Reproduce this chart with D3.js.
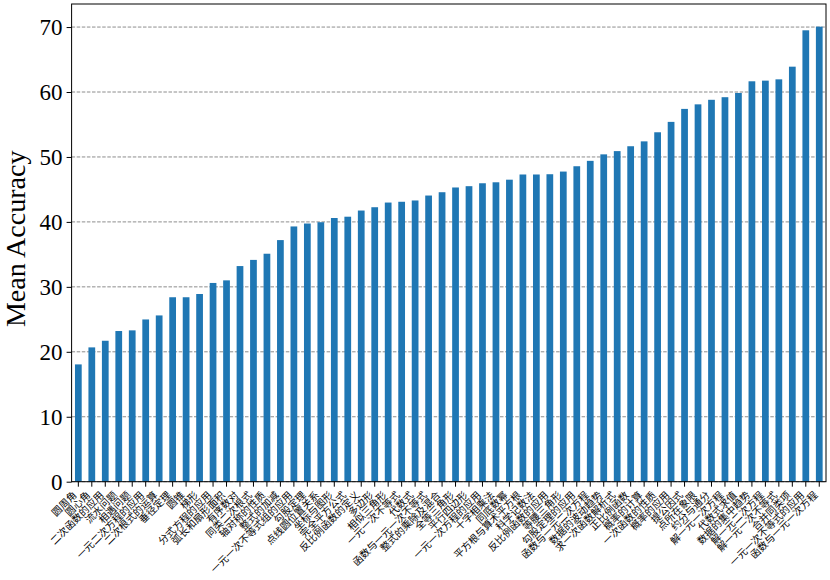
<!DOCTYPE html>
<html>
<head>
<meta charset="utf-8">
<script src="https://cdn.jsdelivr.net/npm/d3@7"></script>
<style>
  body { margin: 0; background: #fff; }
  svg { display: block; }
</style>
</head>
<body>
<div id="chart"></div>
<script>
const categories = [
  "圆周角", "圆心角", "二次函数的应用", "流水问题", "相遇问题",
  "一元二次方程的应用", "二次根式的运算", "垂径定理", "圆锥", "梯形",
  "分式方程的应用", "弧长和扇形面积", "有序数对", "同类二次根式", "轴对称的性质",
  "整式的加减", "一元一次不等式组的应用", "勾股定理", "点线圆位置关系", "坐标与图形",
  "完全平方公式", "反比例函数的定义", "多边形", "相似三角形", "一元一次不等式",
  "代数式", "函数与一元一次不等式", "整式的乘除及混合", "全等三角形", "平行四边形",
  "一元一次方程的应用", "十字相乘法", "同底数幂", "平方根与算术平方根", "科学记数法",
  "反比例函数的应用", "等腰三角形", "勾股定理的应用", "函数与一元二次方程", "数据的波动趋势",
  "求一次函数解析式", "正比例函数", "概率的计算", "一次函数的性质", "概率的应用",
  "提公因式", "点所在象限", "约分与通分", "解一元一次方程", "代数式求值",
  "数据的集中趋势", "解一元二次方程", "解一元一次不等式", "合并同类项", "一元一次不等式的应用",
  "函数与一元一次方程"
];
const values = [
  18.06, 20.68, 21.7, 23.2, 23.3, 24.98, 25.6, 28.4, 28.4, 28.9,
  30.6, 31.0, 33.2, 34.15, 35.1, 37.2, 39.3, 39.75, 39.95, 40.6,
  40.8, 41.75, 42.26, 42.98, 43.1, 43.3, 44.06, 44.57, 45.3, 45.5,
  45.95, 46.1, 46.5, 47.3, 47.3, 47.34, 47.75, 48.57, 49.4, 50.4,
  50.9, 51.65, 52.4, 53.8, 55.4, 57.4, 58.1, 58.8, 59.2, 59.85,
  61.65, 61.75, 61.95, 63.9, 69.5, 70.06
];
const yTicks = [0, 10, 20, 30, 40, 50, 60, 70];
const yLabel = "Mean Accuracy";

const W = 830, H = 580;
const pLeft = 71.6, pRight = 826, pTop = 4, pBottom = 481.7;

const svg = d3.select("#chart").append("svg")
  .attr("width", W).attr("height", H);

const idx = d3.range(categories.length);
const x = d3.scaleBand().domain(idx).range([pLeft, pRight])
  .paddingInner(0.5).paddingOuter(0.25);
const y = d3.scaleLinear().domain([0, 73.55]).range([pBottom, pTop]);

// grid
svg.append("g").selectAll("line").data(yTicks).join("line")
  .attr("x1", pLeft).attr("x2", pRight)
  .attr("y1", d => y(d)).attr("y2", d => y(d))
  .attr("stroke", "#808080").attr("stroke-width", 0.9)
  .attr("stroke-dasharray", "3.5,1.6");

// bars
svg.append("g").selectAll("rect").data(idx).join("rect")
  .attr("x", i => x(i))
  .attr("width", x.bandwidth())
  .attr("y", i => y(values[i]))
  .attr("height", i => pBottom - y(values[i]))
  .attr("fill", "#1f77b4");

// y axis
const yAxis = svg.append("g").attr("transform", `translate(${pLeft},0)`)
  .call(d3.axisLeft(y).tickValues(yTicks).tickSize(5).tickPadding(4).tickFormat(d3.format("d")));
yAxis.select(".domain").remove();
yAxis.selectAll("text").attr("font-family", "'Liberation Serif', 'Times New Roman', serif")
  .attr("font-size", 23).attr("fill", "#000");
yAxis.selectAll("line").attr("stroke", "#000");

// x axis
const xAxis = svg.append("g").attr("transform", `translate(0,${pBottom})`)
  .call(d3.axisBottom(x).tickSize(5).tickPadding(3).tickFormat(i => categories[i]));
xAxis.select(".domain").remove();
xAxis.selectAll("line").attr("stroke", "#000");
xAxis.selectAll("text")
  .attr("font-family", "'Noto Sans CJK SC', sans-serif")
  .attr("font-size", 10)
  .attr("fill", "#000")
  .attr("text-anchor", "end")
  .attr("dy", null)
  .attr("y", 0)
  .attr("transform", "translate(-1,14) rotate(-45)");

// frame
svg.append("rect").attr("x", pLeft).attr("y", pTop)
  .attr("width", pRight - pLeft).attr("height", pBottom - pTop)
  .attr("fill", "none").attr("stroke", "#000").attr("stroke-width", 1);

// y label
svg.append("text")
  .attr("transform", `translate(25,${(pTop + pBottom) / 2 - 4}) rotate(-90)`)
  .attr("text-anchor", "middle")
  .attr("font-family", "'Liberation Serif', 'Times New Roman', serif")
  .attr("font-size", 28)
  .attr("fill", "#000")
  .text(yLabel);
</script>
</body>
</html>
